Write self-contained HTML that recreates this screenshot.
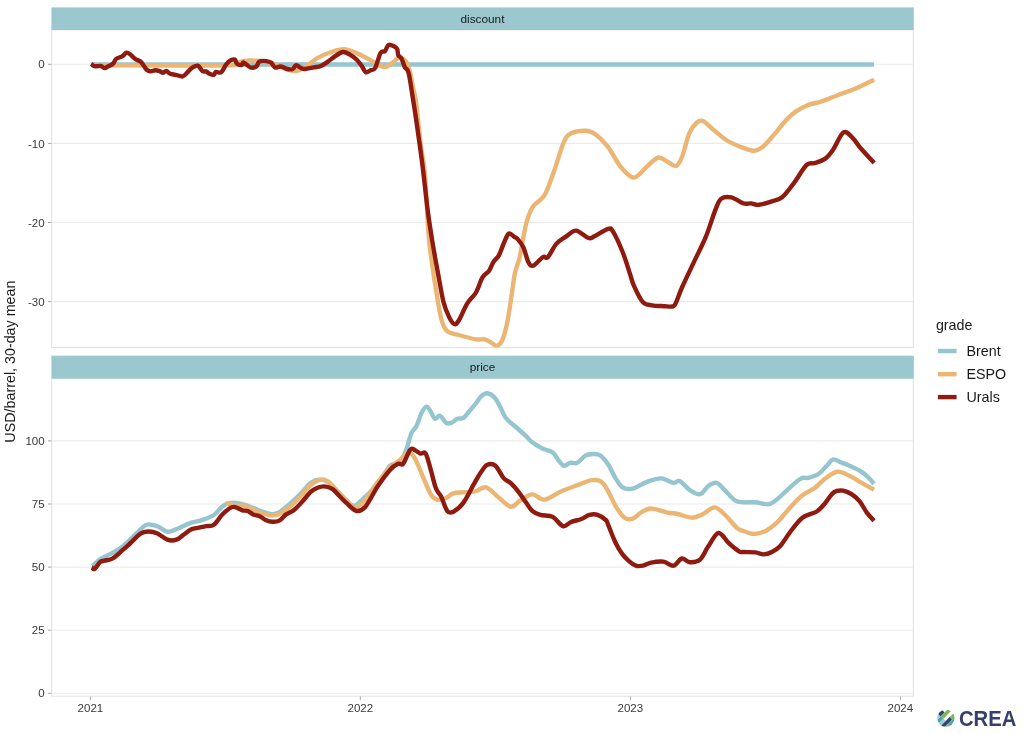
<!DOCTYPE html><html><head><meta charset="utf-8"><style>html,body{margin:0;padding:0;background:#fff;width:1024px;height:734px;overflow:hidden}svg{display:block;will-change:transform}</style></head><body><svg width="1024" height="734" viewBox="0 0 1024 734">
<rect width="1024" height="734" fill="#fff"/>
<line x1="51.7" x2="913.3" y1="64.3" y2="64.3" stroke="#EBEBEB" stroke-width="1.1"/>
<line x1="51.7" x2="913.3" y1="143.4" y2="143.4" stroke="#EBEBEB" stroke-width="1.1"/>
<line x1="51.7" x2="913.3" y1="222.5" y2="222.5" stroke="#EBEBEB" stroke-width="1.1"/>
<line x1="51.7" x2="913.3" y1="301.6" y2="301.6" stroke="#EBEBEB" stroke-width="1.1"/>
<line x1="51.7" x2="913.3" y1="440.9" y2="440.9" stroke="#EBEBEB" stroke-width="1.1"/>
<line x1="51.7" x2="913.3" y1="504.0" y2="504.0" stroke="#EBEBEB" stroke-width="1.1"/>
<line x1="51.7" x2="913.3" y1="567.1" y2="567.1" stroke="#EBEBEB" stroke-width="1.1"/>
<line x1="51.7" x2="913.3" y1="630.2" y2="630.2" stroke="#EBEBEB" stroke-width="1.1"/>
<line x1="51.7" x2="913.3" y1="693.3" y2="693.3" stroke="#EBEBEB" stroke-width="1.1"/>
<rect x="51.7" y="30.0" width="861.5999999999999" height="317.5" fill="none" stroke="#E3E3E3" stroke-width="1.1"/>
<rect x="51.7" y="378.6" width="861.5999999999999" height="317.6" fill="none" stroke="#E3E3E3" stroke-width="1.1"/>
<rect x="51.4" y="7.4" width="862.4" height="22.6" fill="#9BC7CF"/>
<rect x="51.4" y="355.7" width="862.4" height="22.9" fill="#9BC7CF"/>
<line x1="48" x2="51.5" y1="64.3" y2="64.3" stroke="#A8A8A8" stroke-width="1"/>
<line x1="48" x2="51.5" y1="143.4" y2="143.4" stroke="#A8A8A8" stroke-width="1"/>
<line x1="48" x2="51.5" y1="222.5" y2="222.5" stroke="#A8A8A8" stroke-width="1"/>
<line x1="48" x2="51.5" y1="301.6" y2="301.6" stroke="#A8A8A8" stroke-width="1"/>
<line x1="48" x2="51.5" y1="440.9" y2="440.9" stroke="#A8A8A8" stroke-width="1"/>
<line x1="48" x2="51.5" y1="504.0" y2="504.0" stroke="#A8A8A8" stroke-width="1"/>
<line x1="48" x2="51.5" y1="567.1" y2="567.1" stroke="#A8A8A8" stroke-width="1"/>
<line x1="48" x2="51.5" y1="630.2" y2="630.2" stroke="#A8A8A8" stroke-width="1"/>
<line x1="48" x2="51.5" y1="693.3" y2="693.3" stroke="#A8A8A8" stroke-width="1"/>
<line x1="90.4" x2="90.4" y1="696.5" y2="700" stroke="#A8A8A8" stroke-width="1"/>
<line x1="360.35" x2="360.35" y1="696.5" y2="700" stroke="#A8A8A8" stroke-width="1"/>
<line x1="630.35" x2="630.35" y1="696.5" y2="700" stroke="#A8A8A8" stroke-width="1"/>
<line x1="900.35" x2="900.35" y1="696.5" y2="700" stroke="#A8A8A8" stroke-width="1"/>
<defs><clipPath id="c1"><rect x="51.7" y="30.0" width="861.5999999999999" height="317.5"/></clipPath><clipPath id="c2"><rect x="51.7" y="378.6" width="861.5999999999999" height="317.6"/></clipPath></defs>
<line x1="91" x2="874.1" y1="64.5" y2="64.5" stroke="#95C5CE" stroke-width="4.4" clip-path="url(#c1)"/>
<path d="M91.0,65.2 C114.5,65.2 207.2,65.8 232.0,65.2 C256.8,64.6 237.2,62.6 240.0,61.8 C242.8,61.0 246.6,60.6 248.8,60.4 C251.1,60.2 251.4,60.5 253.5,60.6 C255.6,60.7 257.5,60.4 261.1,61.0 C264.7,61.6 271.4,63.2 275.2,64.5 C279.0,65.8 280.5,67.6 284.0,68.7 C287.5,69.8 292.4,71.5 296.2,71.0 C300.0,70.5 303.3,68.2 306.8,66.0 C310.3,63.9 313.2,60.4 317.3,58.1 C321.4,55.8 327.0,53.5 331.4,52.0 C335.8,50.5 339.6,49.2 343.7,49.3 C347.8,49.4 351.6,51.1 356.0,52.9 C360.4,54.6 366.0,57.7 370.1,59.9 C374.2,62.1 378.0,64.8 380.6,66.0 C383.2,67.2 383.8,67.5 385.9,66.9 C387.9,66.3 390.8,64.0 392.9,62.5 C394.9,61.0 396.5,58.7 398.2,58.1 C399.9,57.5 401.7,58.4 403.0,59.0 C404.3,59.6 405.0,59.7 406.1,61.6 C407.2,63.5 408.4,66.0 409.6,70.4 C410.8,74.8 412.1,83.1 413.1,88.0 C414.1,92.9 414.9,93.8 415.8,100.0 C416.7,106.2 417.6,116.7 418.5,125.0 C419.4,133.3 420.4,141.7 421.5,150.0 C422.6,158.3 423.8,161.1 425.0,175.0 C426.2,188.9 427.3,218.4 428.5,233.6 C429.7,248.8 431.0,256.1 432.4,266.3 C433.8,276.5 435.3,285.9 436.8,294.6 C438.3,303.3 439.6,312.6 441.2,318.6 C442.8,324.6 443.7,327.9 446.6,330.6 C449.5,333.3 453.7,333.6 458.6,335.0 C463.5,336.4 471.6,338.6 476.0,339.3 C480.4,340.0 482.2,338.8 484.8,339.3 C487.4,339.9 489.3,341.5 491.3,342.6 C493.3,343.7 494.9,346.3 496.7,345.9 C498.5,345.5 500.4,344.6 502.2,340.4 C504.0,336.2 506.0,328.8 507.6,320.8 C509.2,312.8 510.8,300.5 512.0,292.5 C513.2,284.5 513.7,278.7 515.0,272.8 C516.3,266.9 517.9,265.0 519.7,257.1 C521.5,249.2 523.8,233.5 525.8,225.3 C527.8,217.1 529.8,212.2 532.0,208.1 C534.2,204.0 537.0,203.1 539.3,200.7 C541.5,198.2 543.0,198.3 545.5,193.4 C548.0,188.5 550.9,179.9 554.0,171.3 C557.1,162.7 561.0,148.2 563.9,141.9 C566.8,135.6 567.5,135.2 571.2,133.3 C574.9,131.5 581.8,130.6 585.9,130.8 C590.0,131.0 592.0,131.8 595.7,134.5 C599.4,137.2 603.9,141.5 608.0,146.8 C612.1,152.1 616.2,161.3 620.3,166.4 C624.4,171.5 629.2,176.2 632.5,177.4 C635.8,178.6 637.6,175.5 639.9,173.8 C642.1,172.1 643.0,170.1 646.0,167.4 C649.0,164.7 654.5,158.6 658.0,157.6 C661.5,156.6 664.0,160.1 667.0,161.5 C670.0,162.9 673.5,166.8 676.0,166.0 C678.5,165.2 679.8,162.5 682.0,157.0 C684.2,151.5 686.9,138.8 689.4,133.0 C691.9,127.2 694.7,124.5 697.0,122.5 C699.3,120.5 700.5,120.0 703.0,121.0 C705.5,122.0 708.0,125.2 712.0,128.5 C716.0,131.8 722.0,137.3 727.0,140.5 C732.0,143.7 737.5,145.7 742.0,147.4 C746.5,149.1 750.7,151.0 754.3,150.8 C757.9,150.6 760.0,149.1 763.5,146.2 C767.0,143.3 771.2,137.8 775.1,133.4 C779.0,129.0 783.2,123.2 786.7,119.5 C790.2,115.8 792.5,113.8 796.0,111.4 C799.5,109.0 803.4,106.9 807.6,105.2 C811.9,103.5 816.5,103.2 821.5,101.5 C826.5,99.8 831.9,97.4 837.7,95.2 C843.5,93.0 850.2,90.8 856.3,88.2 C862.4,85.6 871.1,81.1 874.1,79.7" fill="none" stroke="#EBB574" stroke-width="4.4" stroke-linejoin="round" stroke-linecap="butt" clip-path="url(#c1)"/>
<path d="M91.2,63.9 C91.8,64.3 92.8,65.9 94.4,66.2 C96.0,66.6 98.9,65.6 100.6,65.9 C102.3,66.2 103.2,68.0 104.5,68.1 C105.8,68.2 107.0,67.0 108.4,66.2 C109.8,65.5 111.8,64.8 113.1,63.6 C114.4,62.4 114.7,60.1 116.2,58.9 C117.8,57.6 120.8,57.1 122.5,56.1 C124.2,55.1 125.1,53.0 126.4,52.7 C127.7,52.4 128.9,53.5 130.3,54.5 C131.7,55.5 133.3,57.6 135.0,58.8 C136.7,59.9 139.1,60.5 140.5,61.6 C141.9,62.7 142.6,64.2 143.6,65.5 C144.6,66.8 145.5,68.7 146.7,69.7 C147.9,70.7 149.2,71.3 150.6,71.4 C152.0,71.5 153.9,70.3 155.3,70.2 C156.7,70.1 157.9,70.5 159.2,70.9 C160.5,71.3 161.9,72.8 163.1,72.8 C164.3,72.8 165.1,70.7 166.2,70.9 C167.4,71.1 168.6,73.1 170.2,73.8 C171.8,74.4 173.5,74.4 175.6,74.8 C177.7,75.2 180.8,76.8 182.7,76.4 C184.6,76.0 185.8,73.9 187.3,72.5 C188.9,71.1 190.2,68.9 192.0,67.8 C193.8,66.7 196.0,65.1 197.8,65.7 C199.6,66.3 201.3,70.2 202.7,71.2 C204.1,72.2 205.0,71.0 206.1,71.4 C207.2,71.8 208.2,73.2 209.5,73.8 C210.8,74.4 212.8,75.1 213.9,74.8 C215.0,74.5 214.7,72.3 215.9,71.9 C217.1,71.5 219.6,73.5 221.2,72.3 C222.9,71.1 224.6,66.5 226.1,64.5 C227.6,62.5 228.5,61.4 230.0,60.6 C231.5,59.8 233.8,59.1 234.9,59.6 C236.1,60.1 235.8,62.7 236.9,63.6 C238.0,64.5 240.6,65.2 241.8,65.0 C242.9,64.8 242.2,62.2 243.7,62.6 C245.2,63.0 248.4,66.9 250.5,67.5 C252.6,68.1 254.9,67.3 256.4,66.3 C257.9,65.3 257.7,62.5 259.3,61.6 C260.9,60.7 264.2,60.9 266.2,61.1 C268.1,61.3 269.5,61.5 271.0,62.6 C272.5,63.7 273.4,66.8 275.0,67.5 C276.6,68.2 278.7,66.2 280.8,66.5 C282.9,66.8 285.5,68.6 287.5,69.0 C289.5,69.4 291.2,69.6 292.7,69.0 C294.1,68.4 294.9,65.4 296.2,65.2 C297.5,65.0 299.1,67.2 300.6,67.8 C302.1,68.4 302.8,69.1 305.0,69.0 C307.2,68.9 311.2,67.8 313.8,67.3 C316.4,66.8 318.5,67.0 320.9,66.0 C323.2,65.0 325.6,63.2 327.9,61.6 C330.2,60.0 332.4,58.0 334.9,56.4 C337.4,54.8 340.3,52.3 342.8,52.0 C345.3,51.7 347.7,53.4 349.9,54.6 C352.1,55.8 354.1,57.2 356.0,59.0 C357.9,60.8 359.7,63.0 361.3,65.2 C362.9,67.4 364.1,71.4 365.7,72.2 C367.3,73.0 369.4,70.8 371.0,70.1 C372.6,69.4 373.7,70.7 375.3,67.8 C376.9,64.9 379.0,55.6 380.6,52.9 C382.2,50.1 383.7,52.4 385.0,51.1 C386.3,49.8 386.9,45.6 388.5,44.9 C390.1,44.2 393.2,46.0 394.7,46.7 C396.2,47.4 396.7,47.9 397.3,49.3 C397.9,50.7 397.6,53.8 398.3,55.3 C399.0,56.8 400.4,56.5 401.5,58.5 C402.6,60.5 403.6,64.8 404.8,67.2 C406.0,69.6 407.2,67.7 408.6,73.0 C410.0,78.3 411.4,89.4 413.0,99.2 C414.6,109.0 416.3,120.5 417.9,132.0 C419.5,143.5 421.2,154.9 422.8,168.0 C424.4,181.1 426.1,197.9 427.7,210.4 C429.3,222.9 430.8,232.1 432.6,243.0 C434.4,253.9 436.7,266.3 438.5,276.0 C440.3,285.7 441.6,294.5 443.3,301.2 C445.0,307.9 447.0,312.6 448.8,316.4 C450.6,320.2 452.6,323.4 454.2,324.1 C455.8,324.8 456.4,324.2 458.6,320.8 C460.8,317.4 464.4,308.1 467.3,303.4 C470.2,298.7 473.4,296.9 476.0,292.5 C478.6,288.1 480.4,280.8 482.6,277.2 C484.8,273.6 487.3,273.2 489.1,270.7 C490.9,268.1 491.9,264.4 493.5,261.9 C495.1,259.3 497.3,258.3 498.9,255.4 C500.5,252.5 501.7,248.1 503.3,244.5 C504.9,240.9 506.9,234.9 508.7,233.6 C510.5,232.3 512.8,236.1 514.2,236.9 C515.6,237.8 515.8,237.0 517.3,238.7 C518.8,240.4 521.6,243.4 523.4,247.3 C525.2,251.2 526.7,258.9 528.3,262.0 C529.9,265.1 530.8,266.5 533.2,265.7 C535.7,264.9 540.5,258.5 543.0,257.1 C545.5,255.7 545.6,259.4 547.9,257.1 C550.1,254.9 553.4,247.1 556.5,243.6 C559.6,240.1 563.0,238.5 566.3,236.3 C569.6,234.1 572.4,230.3 576.1,230.6 C579.8,230.9 585.3,237.1 588.4,238.0 C591.5,238.9 591.2,237.8 594.5,236.3 C597.8,234.8 604.9,229.7 608.0,228.9 C611.1,228.1 610.4,227.5 612.9,231.4 C615.4,235.3 619.8,245.0 622.7,252.2 C625.6,259.3 628.2,268.7 630.1,274.3 C632.0,279.9 631.9,281.2 634.0,285.9 C636.1,290.6 640.0,299.1 643.0,302.3 C646.0,305.5 648.5,304.7 652.0,305.3 C655.5,305.9 660.5,306.0 664.0,306.2 C667.5,306.4 671.0,307.0 673.0,306.4 C675.0,305.8 674.5,305.6 676.0,302.5 C677.5,299.4 679.0,294.3 682.0,287.5 C685.0,280.7 690.0,270.4 694.0,261.9 C698.0,253.4 702.5,244.9 706.0,236.4 C709.5,227.9 712.5,217.2 715.0,210.9 C717.5,204.7 718.3,201.2 721.0,198.9 C723.7,196.7 727.7,196.7 731.4,197.4 C735.1,198.2 740.1,202.4 743.4,203.4 C746.6,204.4 748.3,203.2 750.9,203.4 C753.5,203.6 755.6,205.1 758.9,204.8 C762.2,204.5 766.6,203.1 770.5,201.8 C774.4,200.5 778.2,200.3 782.1,197.2 C786.0,194.1 789.7,188.6 793.7,183.3 C797.8,178.0 802.9,168.6 806.4,165.2 C809.9,161.8 811.4,164.1 814.5,163.1 C817.6,162.1 821.9,161.1 825.0,158.9 C828.1,156.7 830.0,154.1 833.1,149.7 C836.2,145.3 840.2,134.2 843.5,132.3 C846.8,130.4 849.9,135.4 852.8,138.1 C855.7,140.8 857.3,144.4 860.9,148.5 C864.5,152.6 871.9,160.5 874.1,162.9" fill="none" stroke="#8E1A10" stroke-width="4.4" stroke-linejoin="round" stroke-linecap="butt" clip-path="url(#c1)"/>
<path d="M92.5,565.9 C94.0,564.6 98.2,560.5 101.5,558.4 C104.8,556.3 108.5,555.2 112.0,553.2 C115.5,551.2 119.0,549.2 122.5,546.5 C126.0,543.8 129.2,540.2 133.0,536.7 C136.8,533.2 142.0,527.5 145.0,525.5 C148.0,523.5 148.8,524.5 151.0,524.7 C153.2,524.9 155.8,525.5 158.5,526.7 C161.2,527.9 164.2,531.5 167.4,531.8 C170.6,532.1 174.1,529.9 177.9,528.5 C181.7,527.1 186.0,524.6 190.0,523.2 C194.0,521.8 197.9,521.6 201.9,520.2 C205.9,518.8 210.8,517.0 213.9,515.0 C217.0,513.0 218.5,510.1 220.5,508.3 C222.5,506.5 223.6,505.1 225.9,504.2 C228.2,503.3 230.9,502.7 234.1,502.8 C237.3,502.9 241.0,503.6 245.1,504.9 C249.2,506.1 254.7,508.8 258.8,510.3 C262.9,511.8 266.5,513.3 269.7,513.8 C272.9,514.3 274.7,514.6 277.9,513.1 C281.1,511.6 285.1,508.0 288.8,504.9 C292.5,501.8 296.2,498.2 299.8,494.6 C303.4,491.0 307.5,485.5 310.7,483.0 C313.9,480.5 315.9,479.7 318.9,479.6 C321.9,479.5 325.3,480.2 328.5,482.3 C331.7,484.4 335.0,488.9 338.0,491.9 C341.0,494.9 343.6,497.8 346.3,500.1 C349.0,502.4 351.0,506.3 354.2,505.7 C357.4,505.1 361.5,500.1 365.4,496.5 C369.3,492.9 373.6,489.3 377.7,484.2 C381.8,479.1 386.2,469.6 390.0,465.8 C393.8,462.1 397.5,464.4 400.2,461.7 C402.9,459.0 404.4,454.3 406.3,449.5 C408.2,444.7 409.7,437.0 411.4,433.1 C413.1,429.2 414.8,429.4 416.5,426.0 C418.2,422.6 419.9,415.9 421.6,412.7 C423.3,409.5 425.2,406.8 426.7,406.6 C428.2,406.4 429.4,409.7 430.8,411.7 C432.2,413.7 433.4,418.1 434.9,418.8 C436.4,419.5 438.1,415.1 440.0,415.8 C441.9,416.5 444.3,421.7 446.2,422.9 C448.1,424.1 449.4,423.6 451.3,422.9 C453.2,422.2 455.4,419.6 457.4,418.8 C459.4,418.0 461.4,419.2 463.5,417.8 C465.6,416.4 467.6,413.1 469.7,410.7 C471.8,408.3 473.9,405.9 475.8,403.5 C477.7,401.1 479.2,398.0 481.1,396.3 C483.0,394.6 485.1,393.1 487.3,393.3 C489.5,393.5 492.4,395.4 494.4,397.4 C496.4,399.4 497.6,402.1 499.5,405.5 C501.4,408.9 503.0,414.2 505.7,417.8 C508.4,421.4 512.5,423.9 515.9,427.0 C519.3,430.1 523.4,433.6 526.1,436.2 C528.8,438.8 529.5,440.2 532.2,442.3 C534.9,444.4 539.0,446.8 542.4,448.5 C545.8,450.2 550.0,450.6 552.7,452.6 C555.4,454.6 556.9,458.5 558.8,460.7 C560.7,462.9 562.0,465.4 563.9,465.8 C565.8,466.2 567.8,463.3 570.0,462.8 C572.2,462.3 574.6,464.0 577.2,462.8 C579.8,461.6 582.7,457.1 585.4,455.6 C588.1,454.1 591.1,454.1 593.5,454.0 C595.9,453.9 597.5,453.6 600.0,455.3 C602.5,457.1 605.7,460.8 608.2,464.5 C610.8,468.2 612.9,474.0 615.3,477.8 C617.7,481.6 619.6,485.6 622.5,487.4 C625.4,489.2 628.6,489.5 632.7,488.6 C636.8,487.7 642.2,483.6 647.0,481.9 C651.8,480.2 656.9,478.2 661.3,478.4 C665.7,478.6 670.5,482.5 673.6,482.9 C676.7,483.3 677.0,479.7 679.7,480.9 C682.4,482.1 686.5,487.9 689.9,490.1 C693.3,492.3 697.0,494.9 700.1,494.2 C703.2,493.5 705.6,487.9 708.3,486.0 C711.0,484.1 713.8,482.2 716.5,482.9 C719.2,483.6 721.6,487.2 724.7,490.1 C727.8,493.0 731.8,498.3 734.9,500.3 C738.0,502.3 739.8,502.0 743.2,502.3 C746.6,502.6 751.3,502.0 755.4,502.3 C759.5,502.6 764.3,504.7 767.7,504.4 C771.1,504.1 772.8,502.5 775.9,500.3 C779.0,498.1 782.0,494.7 786.1,491.1 C790.2,487.5 796.6,481.0 800.4,478.8 C804.1,476.6 805.5,478.7 808.6,477.8 C811.7,476.9 815.7,475.8 818.8,473.7 C821.9,471.6 824.6,467.9 827.0,465.5 C829.4,463.1 830.7,459.9 833.1,459.4 C835.5,458.9 838.2,461.3 841.3,462.5 C844.4,463.7 848.4,465.2 851.5,466.6 C854.6,468.0 857.0,469.0 859.7,470.7 C862.4,472.4 865.4,474.6 867.8,476.8 C870.2,479.0 873.0,482.7 874.0,483.9" fill="none" stroke="#95C5CE" stroke-width="4.4" stroke-linejoin="round" stroke-linecap="butt" clip-path="url(#c2)"/>
<path d="M225.3,503.5 C226.8,503.7 230.8,504.4 234.1,504.9 C237.4,505.3 241.4,505.2 245.1,506.2 C248.8,507.2 251.9,509.5 256.0,511.0 C260.1,512.5 266.1,514.5 269.7,515.1 C273.3,515.7 274.7,515.6 277.9,514.4 C281.1,513.1 285.1,510.5 288.8,507.6 C292.5,504.8 296.2,501.1 299.8,497.3 C303.4,493.5 307.1,487.9 310.7,485.0 C314.3,482.1 318.4,479.9 321.6,479.6 C324.8,479.3 327.1,480.8 329.8,483.0 C332.5,485.2 335.2,489.6 338.0,492.6 C340.8,495.6 343.4,498.3 346.3,500.8 C349.2,503.3 352.0,507.9 355.2,507.7 C358.4,507.5 361.6,503.9 365.4,499.6 C369.1,495.4 373.6,487.5 377.7,482.2 C381.8,476.9 386.2,471.6 390.0,467.9 C393.8,464.1 397.1,462.2 400.2,459.7 C403.3,457.1 406.0,452.9 408.4,452.6 C410.8,452.3 412.1,453.8 414.5,457.7 C416.9,461.6 420.0,470.0 422.7,476.1 C425.4,482.2 428.4,490.5 430.8,494.4 C433.2,498.3 434.6,498.9 437.0,499.6 C439.4,500.3 442.4,499.5 445.1,498.5 C447.8,497.5 450.2,494.4 453.3,493.4 C456.4,492.4 459.9,492.7 463.5,492.4 C467.1,492.1 471.2,492.2 475.0,491.4 C478.8,490.5 482.4,486.4 486.2,487.3 C489.9,488.2 493.4,493.3 497.5,496.5 C501.6,499.7 507.1,506.0 510.8,506.7 C514.5,507.4 516.4,502.7 520.0,500.6 C523.6,498.6 528.1,494.6 532.2,494.4 C536.3,494.2 539.7,500.1 544.5,499.6 C549.3,499.1 555.3,493.8 560.8,491.4 C566.2,489.0 571.9,487.2 577.2,485.3 C582.5,483.4 588.1,480.3 592.5,480.1 C596.9,479.9 599.8,479.6 603.8,484.2 C607.8,488.8 612.9,501.8 616.4,507.4 C619.9,513.0 621.8,515.8 624.5,517.7 C627.2,519.6 630.0,519.6 632.7,518.7 C635.4,517.9 637.8,514.3 640.9,512.6 C644.0,510.9 646.7,508.5 651.1,508.5 C655.5,508.5 663.0,511.7 667.4,512.6 C671.8,513.5 673.6,513.1 677.7,514.0 C681.8,514.9 687.9,517.6 692.0,517.7 C696.1,517.8 698.5,516.3 702.2,514.6 C705.9,512.9 710.6,507.4 714.4,507.4 C718.1,507.4 721.0,511.2 724.7,514.6 C728.5,518.0 733.8,525.2 736.9,527.9 C740.0,530.6 740.5,529.9 743.2,530.9 C746.0,531.9 749.6,534.0 753.4,534.0 C757.1,534.0 761.6,532.9 765.7,530.9 C769.8,528.9 773.8,525.6 777.9,521.7 C782.0,517.8 786.1,511.8 790.2,507.4 C794.3,503.0 798.3,498.4 802.4,495.2 C806.5,492.0 811.0,490.7 814.7,488.0 C818.5,485.3 821.1,481.5 824.9,478.8 C828.6,476.1 833.1,472.2 837.2,471.7 C841.3,471.2 845.4,473.9 849.5,475.8 C853.6,477.7 857.6,480.6 861.7,482.9 C865.8,485.2 872.0,488.6 874.0,489.7" fill="none" stroke="#EBB574" stroke-width="4.4" stroke-linejoin="round" stroke-linecap="butt" clip-path="url(#c2)"/>
<path d="M91.7,567.4 C92.2,567.6 93.3,569.8 94.7,568.9 C96.1,568.0 98.4,563.6 100.0,562.2 C101.6,560.8 102.4,561.3 104.5,560.7 C106.6,560.1 109.7,560.1 112.7,558.4 C115.7,556.6 119.6,552.7 122.5,550.2 C125.4,547.7 127.0,546.2 130.0,543.5 C133.0,540.8 137.5,535.7 140.5,533.7 C143.5,531.7 145.2,531.6 148.0,531.5 C150.8,531.4 153.8,531.9 157.0,533.3 C160.2,534.7 164.2,538.6 167.4,539.7 C170.6,540.8 173.7,540.6 176.4,539.7 C179.2,538.8 181.4,536.2 183.9,534.5 C186.4,532.8 188.9,530.3 191.4,529.2 C193.9,528.1 196.4,528.2 198.9,527.7 C201.4,527.2 203.9,526.7 206.4,526.2 C208.9,525.7 211.3,526.6 213.9,524.7 C216.5,522.9 219.3,517.7 221.8,515.1 C224.3,512.5 226.6,510.4 228.7,509.0 C230.8,507.6 231.8,506.7 234.1,506.9 C236.4,507.1 240.0,509.6 242.3,510.3 C244.6,511.0 246.0,510.3 247.8,511.0 C249.6,511.7 251.2,513.5 253.3,514.4 C255.4,515.3 258.1,515.6 260.1,516.5 C262.2,517.4 263.6,519.0 265.6,519.9 C267.7,520.8 270.1,521.6 272.4,521.7 C274.7,521.8 277.0,521.8 279.3,520.6 C281.6,519.4 283.6,516.2 286.1,514.4 C288.6,512.6 291.6,511.9 294.3,509.7 C297.0,507.5 299.8,504.4 302.5,501.4 C305.2,498.4 308.2,494.2 310.7,491.9 C313.2,489.6 315.2,488.7 317.5,487.8 C319.8,486.9 321.9,486.2 324.4,486.4 C326.9,486.6 330.1,487.5 332.6,489.1 C335.1,490.7 337.1,493.7 339.4,496.0 C341.7,498.3 343.5,500.3 346.3,502.8 C349.1,505.3 353.0,510.2 356.2,510.8 C359.4,511.4 361.8,510.8 365.4,506.7 C369.0,502.6 373.6,492.4 377.7,486.3 C381.8,480.2 386.6,473.6 390.0,469.9 C393.4,466.1 395.9,464.8 398.1,463.8 C400.3,462.8 401.1,466.2 403.2,463.8 C405.2,461.4 408.3,451.7 410.4,449.5 C412.4,447.3 413.8,449.8 415.5,450.5 C417.2,451.2 418.9,453.1 420.6,453.6 C422.3,454.1 424.0,450.9 425.7,453.6 C427.4,456.3 429.1,464.1 430.8,469.9 C432.5,475.7 434.2,483.9 435.9,488.3 C437.6,492.7 439.2,492.8 441.1,496.5 C443.0,500.2 445.2,508.2 447.2,510.8 C449.2,513.4 450.6,513.2 453.3,511.8 C456.0,510.4 460.1,507.2 463.5,502.6 C466.9,498.0 470.9,489.3 473.8,484.2 C476.7,479.1 478.9,475.2 481.1,472.0 C483.4,468.8 484.9,465.8 487.3,464.8 C489.7,463.8 492.7,463.6 495.4,465.8 C498.1,468.0 501.0,475.2 503.6,478.1 C506.2,481.0 508.2,480.8 510.8,483.2 C513.4,485.6 516.4,489.2 518.9,492.4 C521.4,495.6 523.9,499.5 526.1,502.6 C528.3,505.7 529.8,508.8 532.2,510.8 C534.6,512.9 537.0,513.9 540.4,514.9 C543.8,515.9 549.0,515.0 552.7,516.9 C556.5,518.8 559.8,525.2 562.9,526.1 C566.0,527.0 568.0,523.2 571.1,522.0 C574.2,520.8 578.2,520.2 581.3,519.0 C584.3,517.8 586.7,515.6 589.4,514.9 C592.1,514.2 594.9,514.0 597.6,514.9 C600.3,515.8 604.0,518.4 605.8,520.0 C607.6,521.6 606.6,521.1 608.2,524.8 C609.8,528.5 612.9,537.3 615.3,542.2 C617.7,547.1 620.1,551.2 622.5,554.4 C624.9,557.6 627.4,559.7 629.6,561.6 C631.8,563.5 633.6,565.0 635.8,565.7 C638.0,566.4 640.3,566.2 642.9,565.7 C645.5,565.2 647.7,563.3 651.1,562.6 C654.5,561.9 659.6,561.1 663.4,561.6 C667.1,562.1 670.5,566.2 673.6,565.7 C676.7,565.2 679.0,559.1 681.7,558.5 C684.4,557.9 686.8,562.0 689.9,562.2 C693.0,562.4 697.0,562.2 700.1,559.6 C703.2,557.0 705.2,550.7 708.3,546.3 C711.4,541.9 715.1,533.5 718.5,533.0 C721.9,532.5 725.4,540.1 728.8,543.2 C732.2,546.3 736.6,549.9 739.0,551.4 C741.4,552.9 740.5,551.8 743.2,552.0 C745.9,552.2 752.0,552.0 755.4,552.4 C758.8,552.8 760.9,554.5 763.6,554.4 C766.3,554.3 769.1,553.4 771.8,552.0 C774.5,550.6 776.9,549.6 780.0,546.3 C783.1,543.0 786.5,536.8 790.2,532.0 C793.9,527.2 798.0,521.1 802.4,517.7 C806.8,514.3 813.0,513.9 816.8,511.5 C820.5,509.1 822.0,506.6 824.9,503.4 C827.8,500.2 831.0,494.2 834.1,492.1 C837.2,490.0 840.4,490.4 843.3,490.7 C846.2,491.0 848.8,492.4 851.5,494.2 C854.2,496.0 857.2,498.2 859.7,501.3 C862.2,504.4 864.4,509.4 866.8,512.6 C869.2,515.8 872.8,519.4 874.0,520.7" fill="none" stroke="#8E1A10" stroke-width="4.4" stroke-linejoin="round" stroke-linecap="butt" clip-path="url(#c2)"/>
<text x="44.6" y="68.39999999999999" font-family="Liberation Sans, sans-serif" font-size="11.5" fill="#383838" text-anchor="end" >0</text>
<text x="44.6" y="147.5" font-family="Liberation Sans, sans-serif" font-size="11.5" fill="#383838" text-anchor="end" >-10</text>
<text x="44.6" y="226.6" font-family="Liberation Sans, sans-serif" font-size="11.5" fill="#383838" text-anchor="end" >-20</text>
<text x="44.6" y="305.70000000000005" font-family="Liberation Sans, sans-serif" font-size="11.5" fill="#383838" text-anchor="end" >-30</text>
<text x="44.6" y="445.0" font-family="Liberation Sans, sans-serif" font-size="11.5" fill="#383838" text-anchor="end" >100</text>
<text x="44.6" y="508.1" font-family="Liberation Sans, sans-serif" font-size="11.5" fill="#383838" text-anchor="end" >75</text>
<text x="44.6" y="571.2" font-family="Liberation Sans, sans-serif" font-size="11.5" fill="#383838" text-anchor="end" >50</text>
<text x="44.6" y="634.3000000000001" font-family="Liberation Sans, sans-serif" font-size="11.5" fill="#383838" text-anchor="end" >25</text>
<text x="44.6" y="697.4" font-family="Liberation Sans, sans-serif" font-size="11.5" fill="#383838" text-anchor="end" >0</text>
<text x="90.4" y="711.9" font-family="Liberation Sans, sans-serif" font-size="11.5" fill="#383838" text-anchor="middle" >2021</text>
<text x="360.35" y="711.9" font-family="Liberation Sans, sans-serif" font-size="11.5" fill="#383838" text-anchor="middle" >2022</text>
<text x="630.35" y="711.9" font-family="Liberation Sans, sans-serif" font-size="11.5" fill="#383838" text-anchor="middle" >2023</text>
<text x="900.35" y="711.9" font-family="Liberation Sans, sans-serif" font-size="11.5" fill="#383838" text-anchor="middle" >2024</text>
<text x="482.5" y="22.8" font-family="Liberation Sans, sans-serif" font-size="11.8" fill="#1A1A1A" text-anchor="middle" >discount</text>
<text x="482.5" y="371.3" font-family="Liberation Sans, sans-serif" font-size="11.8" fill="#1A1A1A" text-anchor="middle" >price</text>
<text x="15.3" y="361.6" font-family="Liberation Sans, sans-serif" font-size="14.3" fill="#1A1A1A" text-anchor="middle" transform="rotate(-90 15.3 361.6)">USD/barrel, 30-day mean</text>
<text x="935.9" y="330.4" font-family="Liberation Sans, sans-serif" font-size="14.3" fill="#1A1A1A" text-anchor="start" >grade</text>
<line x1="937.9" x2="956.6" y1="351" y2="351" stroke="#95C5CE" stroke-width="4.4"/>
<text x="966.5" y="356" font-family="Liberation Sans, sans-serif" font-size="14.3" fill="#1A1A1A" text-anchor="start" >Brent</text>
<line x1="937.9" x2="956.6" y1="374.2" y2="374.2" stroke="#EBB574" stroke-width="4.4"/>
<text x="966.5" y="379.2" font-family="Liberation Sans, sans-serif" font-size="14.3" fill="#1A1A1A" text-anchor="start" >ESPO</text>
<line x1="937.9" x2="956.6" y1="397.1" y2="397.1" stroke="#8E1A10" stroke-width="4.4"/>
<text x="966.5" y="402.1" font-family="Liberation Sans, sans-serif" font-size="14.3" fill="#1A1A1A" text-anchor="start" >Urals</text>
<g transform="translate(945.9,718.1) rotate(-45)"><defs><clipPath id="lg"><circle cx="0" cy="0" r="8.6"/></clipPath></defs><g clip-path="url(#lg)"><rect x="-10" y="-9" width="7.5" height="4.1" fill="#9CCFD5"/><rect x="-2.5" y="-9" width="5.6" height="4.1" fill="#35416C"/><rect x="-10" y="-4.9" width="7.8" height="3.6000000000000005" fill="#4BA89F"/><rect x="-2.2" y="-4.9" width="12.2" height="3.6000000000000005" fill="#7AB855"/><rect x="-10" y="-1.3" width="8.0" height="3.3" fill="#9CCFD5"/><rect x="-10" y="2.0" width="13.4" height="3.4000000000000004" fill="#35416C"/><rect x="3.4" y="2.0" width="6.6" height="3.4000000000000004" fill="#7AB855"/><rect x="-10" y="5.4" width="7.0" height="3.5999999999999996" fill="#7AB855"/><rect x="-3.0" y="5.4" width="13.0" height="3.5999999999999996" fill="#4BA89F"/></g></g>
<text x="958.9" y="726.2" font-family="Liberation Sans, sans-serif" font-weight="bold" font-size="22.5" fill="#35416C" textLength="57.4" lengthAdjust="spacingAndGlyphs">CREA</text>
</svg></body></html>
